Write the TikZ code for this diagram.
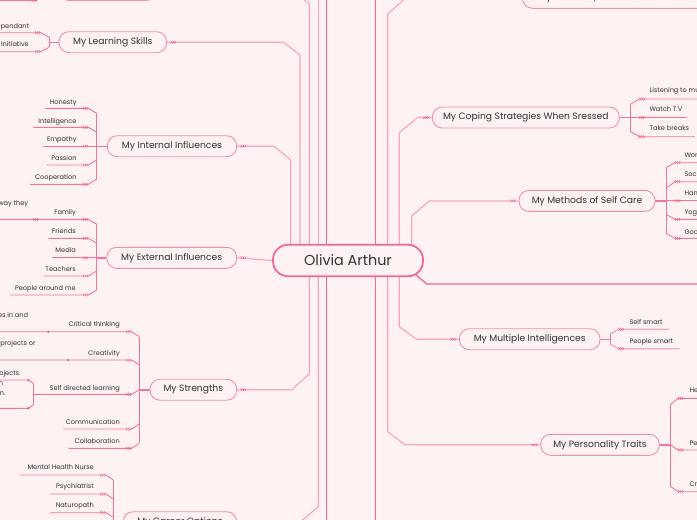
\documentclass[tikz,border=0pt]{standalone}
\usepackage{fontspec}
\setmainfont{Poppins}
\usetikzlibrary{backgrounds}
\definecolor{bgc}{HTML}{FFF2F3}
\definecolor{txt}{HTML}{333333}
\definecolor{nodeB}{HTML}{F48DB3}
\definecolor{centB}{HTML}{EE6A9A}
\definecolor{pinkL}{HTML}{F7A6C3}
\definecolor{pinkD}{HTML}{F3759F}
\definecolor{pinkX}{HTML}{EF6699}
\tikzset{
 mnode/.style={draw=nodeB, line width=0.9pt, fill=bgc, rounded corners=10pt, minimum height=21pt, inner sep=0pt, text=txt, font=\fontsize{9.2}{11}\selectfont},
 cnode/.style={draw=centB, line width=1.8pt, fill=bgc, rounded corners=15pt, minimum height=31.5pt, minimum width=150pt, inner sep=0pt, text=txt, font=\fontsize{14.4}{17}\selectfont},
 ctext/.style={inner sep=0pt, text=txt, font=\fontsize{6.6}{8}\selectfont},
 bline/.style={draw=pinkL, line width=1.2pt},
 sline/.style={draw=pinkD, line width=0.9pt},
 tline/.style={draw=pinkD, line width=1.8pt},
 dline/.style={draw=pinkX, line width=1.3pt},
 mk/.pic={\draw[pinkX, line width=0.5pt] (0,-1.4)--(1.4,0)--(0,1.4) (2,-1.4)--(3.4,0)--(2,1.4) (4,-1.4)--(5.4,0)--(4,1.4);},
}
\begin{document}
\begin{tikzpicture}[x=1pt,y=-1pt]
\useasboundingbox (0,0) rectangle (697,520);
% main nodes
\node[cnode] (C) at (348,260.5) {Olivia Arthur};
\node[mnode, minimum width=107.7pt] (LS) at (112.85,42.2) {My Learning Skills};
\node[mnode, minimum width=129.4pt] (II) at (172,146.2) {My Internal Influences};
\node[mnode, minimum width=130pt] (EI) at (171.7,257.8) {My External Influences};
\node[mnode, minimum width=86.7pt] (ST) at (193.35,389.7) {My Strengths};
\node[mnode, minimum width=113.4pt] (CA) at (180,522.2) {My Career Options};
\node[mnode, minimum width=99pt] (TL) at (107.5,-10.2) {};
\node[mnode, inner xsep=16pt, anchor=west] (PH) at (522,-2.2) {My Passions, Hobbies and Interests};
\node[mnode, minimum width=187pt] (CS) at (525.8,117.5) {My Coping Strategies When Sressed};
\node[mnode, minimum width=136pt] (SC) at (587,200.9) {My Methods of Self Care};
\node[mnode, minimum width=140.7pt] (MI) at (529.7,339.2) {My Multiple Intelligences};
\node[mnode, minimum width=118.6pt] (PT) at (600,444.8) {My Personality Traits};
% child texts left
\node[ctext, anchor=base east] (l1) at (29.3,28.1) {Independant};
\node[ctext, anchor=base east] (l2) at (29,46.7) {Taking Initiative};
\node[ctext, anchor=base east] (i1) at (76.7,104.1) {Honesty};
\node[ctext, anchor=base east] (i2) at (76.7,123.1) {Intelligence};
\node[ctext, anchor=base east] (i3) at (76.7,141.9) {Empathy};
\node[ctext, anchor=base east] (i4) at (76.7,160.9) {Passion};
\node[ctext, anchor=base east] (i5) at (76.7,179.7) {Cooperation};
\node[ctext, anchor=base east] (e1) at (76,214.7) {Family};
\node[ctext, anchor=base east] (e1a) at (28.3,205.7) {the way they};
\node[ctext, anchor=base east] (e2) at (76,233.6) {Friends};
\node[ctext, anchor=base east] (e3) at (76,252.6) {Media};
\node[ctext, anchor=base east] (e4) at (76,271.6) {Teachers};
\node[ctext, anchor=base east] (e5) at (76,290.6) {People around me};
\node[ctext, anchor=base east] (s1) at (120,326.7) {Critical thinking};
\node[ctext, anchor=base east] (s1a) at (28.3,317.4) {issues in and};
\node[ctext, anchor=base east] (s2) at (120,355) {Creativity};
\node[ctext, anchor=base east] (s2a) at (35.7,345.7) {new projects or};
\node[ctext, anchor=base east] (s3) at (120,390.1) {Self directed learning};
\node[ctext, anchor=base east] (s3a) at (20.7,375.7) {subjects.};
\node[ctext, anchor=base east] (s3b) at (3.3,385.7) {own};
\node[ctext, anchor=base east] (s3c) at (5.7,395.1) {plan.};
\node[ctext, anchor=base east] (s4) at (120,424.7) {Communication};
\node[ctext, anchor=base east] (s5) at (120,443.7) {Collaboration};
\node[ctext, anchor=base east] (c1) at (94,469.7) {Mental Health Nurse};
\node[ctext, anchor=base east] (c2) at (94,488.4) {Psychiatrist};
\node[ctext, anchor=base east] (c3) at (94,507.4) {Naturopath};
% child texts right
\node[ctext, anchor=base west] (r1) at (649.3,92.7) {Listening to music};
\node[ctext, anchor=base west] (r2) at (649.3,111.7) {Watch T.V};
\node[ctext, anchor=base west] (r3) at (649.3,130.7) {Take breaks};
\node[ctext, anchor=base west] (m1) at (684.3,157.7) {Working out};
\node[ctext, anchor=base west] (m2) at (684.3,176.7) {Socialising};
\node[ctext, anchor=base west] (m3) at (684.3,195.7) {Hanging out};
\node[ctext, anchor=base west] (m4) at (684.3,214.7) {Yoga};
\node[ctext, anchor=base west] (m5) at (684.3,234.1) {Good sleep};
\node[ctext, anchor=base west] (q1) at (629.3,324.7) {Self smart};
\node[ctext, anchor=base west] (q2) at (629.3,343.7) {People smart};
\node[ctext, anchor=base west] (p1) at (689.3,392.4) {Helpful};
\node[ctext, anchor=base west] (p2) at (689.3,445.1) {Persistent};
\node[ctext, anchor=base west] (p3) at (689.3,486.7) {Creative};

\begin{pgfonlayer}{background}
\fill[bgc] (0,0) rectangle (697,520);
% main connectors left
\draw[bline] (TL.east) -- (293,-10.2) -- (309.3,4) -- (309.3,250);
\draw[bline] (318.3,-5) -- (318.3,250);
\draw[dline] (326.7,-5) -- (326.7,525);
\draw[bline] (LS.east) -- (283.3,42.2) -- (300,55) -- (300,250);
\draw[bline] (II.east) -- (274,146.2) -- (290.7,160) -- (290.7,250);
\draw[bline] (EI.east) -- (C.west);
\draw[bline] (ST.east) -- (291.7,389.7) -- (309.3,374) -- (309.3,270);
\draw[bline] (CA.east) -- (300,522.2) -- (318.3,506.7) -- (318.3,270);
% main connectors right
\draw[dline] (375.7,-5) -- (375.7,525);
\draw[bline] (PH.west) -- (405.8,-2.2) -- (387.7,14) -- (387.7,250);
\draw[bline] (PT.west) -- (405,444.8) -- (387.7,431.7) -- (387.7,270);
\draw[bline] (CS.west) -- (417.7,117.5) -- (399.3,132.7) -- (399.3,250);
\draw[bline] (MI.west) -- (416.7,339.2) -- (399.3,326.7) -- (399.3,270);
\draw[bline] (SC.west) -- (429.3,200.9) -- (411.7,216) -- (411.7,250);
\draw[dline] (410,270) -- (426.7,284) -- (705,284);
% LS children
\draw[sline] (LS.west) -- (49,42.2);
\draw[sline] (49,37.2) -- (49,47.2);
\draw[sline] (-5,32.7) -- (41,32.7) -- (49,37.2);
\draw[sline] (-5,51.7) -- (41,51.7) -- (49,47.2);
\draw[sline] (-5,0.3) -- (37,0.3);
% II children
\draw[sline] (II.west) -- (96.7,146.2);
\draw[sline] (96.7,113.3) -- (96.7,179.3);
\draw[sline] (45,108.3) -- (88.3,108.3) -- (96.7,113.3);
\draw[sline] (33.3,127.3) -- (88.3,127.3) -- (96.7,132.3);
\draw[sline] (43.3,146.2) -- (96.7,146.2);
\draw[sline] (46.7,165) -- (88.3,165) -- (96.7,160);
\draw[sline] (30,184.3) -- (88.3,184.3) -- (96.7,179.3);
% EI children
\draw[tline] (EI.west) -- (96.7,257.8);
\draw[sline] (96.7,224.3) -- (96.7,290);
\draw[sline] (-5,219.3) -- (88.3,219.3) -- (96.7,224.3);
\draw[sline] (48.3,238.3) -- (88.3,238.3) -- (96.7,243.3);
\draw[sline] (51.7,257.8) -- (96.7,257.8);
\draw[sline] (43.3,276) -- (88.3,276) -- (96.7,271);
\draw[sline] (10,295) -- (88.3,295) -- (96.7,290);
% ST children
\draw[tline] (ST.west) -- (139.3,389.7);
\draw[sline] (139.3,336.7) -- (139.3,443.3);
\draw[sline] (-5,331.7) -- (131.7,331.7) -- (139.3,336.7);
\draw[sline] (-5,360) -- (131.7,360) -- (139.3,365);
\draw[sline] (33.3,394.3) -- (131.7,394.3) -- (139.3,389.7);
\draw[sline] (63.3,429) -- (131.7,429) -- (139.3,424);
\draw[sline] (68.3,448.3) -- (131.7,448.3) -- (139.3,443.3);
\draw[sline] (33.3,383.3) -- (33.3,405);
\draw[sline] (-5,380) -- (28.3,380) -- (33.3,383.3);
\draw[sline] (-5,408.3) -- (28.3,408.3) -- (33.3,405);
\fill[pinkX] (48.3,331.7) circle (1.3pt) (68.3,360) circle (1.3pt) (28.3,380) circle (1.3pt) (28.3,408.3) circle (1.3pt);
% CA children
\draw[sline] (113.3,480) -- (113.3,530);
\draw[sline] (20,475) -- (106,475) -- (113.3,480);
\draw[sline] (50,494) -- (106,494) -- (113.3,499);
\draw[sline] (50,512.7) -- (106,512.7) -- (113.3,517);
% CS children
\draw[sline] (CS.east) -- (630.7,117.5);
\draw[sline] (630.7,104) -- (630.7,131.7);
\draw[sline] (630.7,104) -- (639.3,99) -- (705,99);
\draw[sline] (630.7,117.5) -- (686.7,117.5);
\draw[sline] (630.7,131.7) -- (639.3,136.7) -- (695,136.7);
% SC children
\draw[tline] (SC.east) -- (666,200.9);
\draw[sline] (666,167.7) -- (666,233.3);
\draw[sline] (666,167.7) -- (675,162.7) -- (705,162.7);
\draw[sline] (666,188.3) -- (675,181.7) -- (705,181.7);
\draw[sline] (666,200.9) -- (705,200.9);
\draw[sline] (666,214.3) -- (675,219.3) -- (705,219.3);
\draw[sline] (666,233.3) -- (675,238.3) -- (705,238.3);
% MI children
\draw[sline] (MI.east) -- (610,339.2);
\draw[sline] (610,334.3) -- (610,344);
\draw[bline] (610,334.3) -- (618.3,329.3) -- (669.3,329.3);
\draw[bline] (610,344) -- (618.3,348.7) -- (679.3,348.7);
% PT children
\draw[tline] (PT.east) -- (670,444.8);
\draw[sline] (670,405) -- (670,486);
\draw[sline] (670,405) -- (678,398.3) -- (705,398.3);
\draw[sline] (670,444.8) -- (678,450) -- (705,450);
\draw[sline] (670,486) -- (678,491.7) -- (705,491.7);
\end{pgfonlayer}
% marks
\foreach \y in {108.3,127.3,146.2,165,184.3,219.3,238.3,257.8,276,295} \pic at (82.7,\y) {mk};
\foreach \y in {331.7,360,394.3,429,448.3} \pic at (126,\y) {mk};
\foreach \y in {475,494,512.7} \pic at (100,\y) {mk};
\foreach \y in {32.7,51.7} \pic at (35,\y) {mk};
\pic at (31.7,0.3) {mk};
\pic at (33,219.3) {mk};
\foreach \y in {99,117.5,136.7} \pic at (639.3,\y) {mk};
\foreach \y in {162.7,181.7,200.9,219.3,238.3} \pic at (675,\y) {mk};
\foreach \y in {329.3,348.7} \pic at (618.3,\y) {mk};
\foreach \y in {398.3,450,491.7} \pic at (678,\y) {mk};
\path (LS.east) ++(3.5,0) pic {mk};
\path (II.east) ++(3.5,0) pic {mk};
\path (EI.east) ++(3.5,0) pic {mk};
\path (ST.east) ++(3.5,0) pic {mk};
\path (CA.east) ++(3.5,0) pic {mk};
\path (CS.west) ++(-8.5,0) pic {mk};
\path (SC.west) ++(-8.5,0) pic {mk};
\path (MI.west) ++(-8.5,0) pic {mk};
\path (PT.west) ++(-8.5,0) pic {mk};
\path (PH.west) ++(-8.5,0) pic {mk};
\end{tikzpicture}
\end{document}
